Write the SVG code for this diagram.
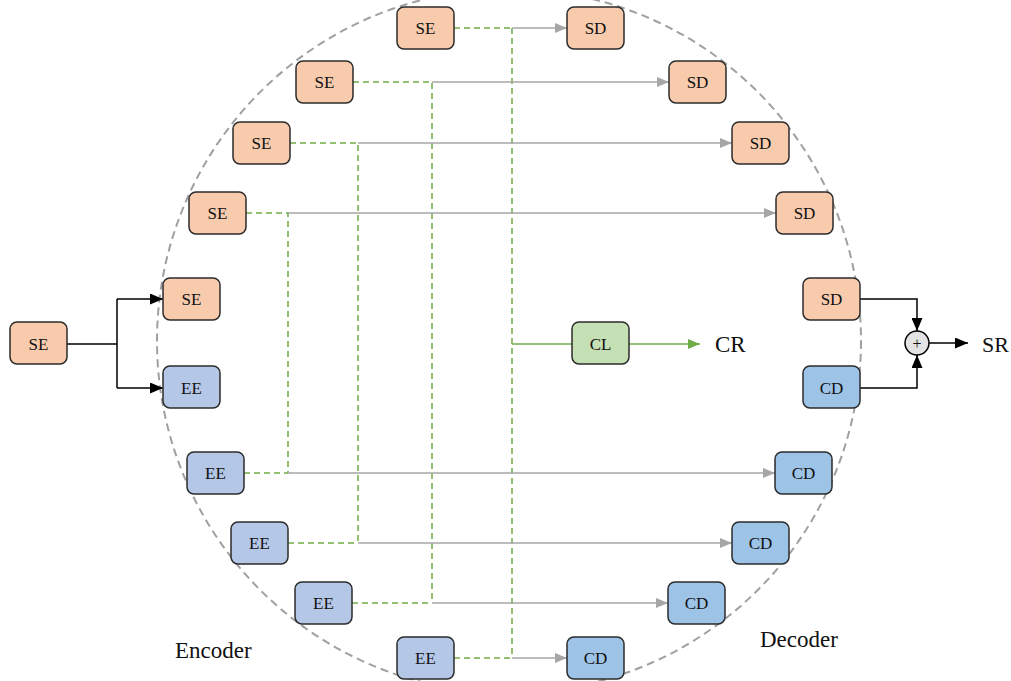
<svg xmlns="http://www.w3.org/2000/svg" width="1011" height="681" viewBox="0 0 1011 681">
<style>
.n rect{stroke:#2b2b2b;stroke-width:1.5}
.se{fill:#f8cbad}.ee{fill:#b4c7e7}.cd{fill:#9dc3e6}.cl{fill:#c5e0b4}
text{font-family:"Liberation Serif","Times New Roman",serif;fill:#111}
.n text{font-size:17px;text-anchor:middle;dominant-baseline:central}
.g{stroke:#a6a6a6;stroke-width:1.5;fill:none}
.gd{stroke:#70ad47;stroke-width:1.5;fill:none;stroke-dasharray:6 4}
.gs{stroke:#70ad47;stroke-width:1.5;fill:none}
.k{stroke:#000;stroke-width:1.5;fill:none}
.lbl{font-size:23px}
</style>
<defs>
<marker id="ag" markerWidth="12" markerHeight="10" refX="12" refY="5" orient="auto" markerUnits="userSpaceOnUse"><path d="M0,0 L12,5 L0,10 Z" fill="#a6a6a6"/></marker>
<marker id="agr" markerWidth="12" markerHeight="10" refX="12" refY="5" orient="auto" markerUnits="userSpaceOnUse"><path d="M0,0 L12,5 L0,10 Z" fill="#70ad47"/></marker>
<marker id="ak" markerWidth="13" markerHeight="11" refX="13" refY="5.5" orient="auto" markerUnits="userSpaceOnUse"><path d="M0,0 L13,5.5 L0,11 Z" fill="#000"/></marker>
</defs>
<rect width="1011" height="681" fill="#fff"/>
<circle cx="509" cy="341" r="352" fill="none" stroke="#a0a0a0" stroke-width="2" stroke-dasharray="8 5"/>
<g id="connectors">
<path class="gd" d="M454,28 H512 M512,28 V658"/>
<path class="g" d="M512,28 H567" marker-end="url(#ag)"/>
<path class="gd" d="M353,82 H432 V603"/>
<path class="g" d="M432,82 H669" marker-end="url(#ag)"/>
<path class="gd" d="M290,143 H358 V543"/>
<path class="g" d="M358,143 H732" marker-end="url(#ag)"/>
<path class="gd" d="M246,213 H288 V473"/>
<path class="g" d="M288,213 H776" marker-end="url(#ag)"/>
<path class="gd" d="M244,473 H288"/>
<path class="g" d="M288,473 H775" marker-end="url(#ag)"/>
<path class="gd" d="M288,543 H358"/>
<path class="g" d="M358,543 H732" marker-end="url(#ag)"/>
<path class="gd" d="M352,603 H432"/>
<path class="g" d="M432,603 H668" marker-end="url(#ag)"/>
<path class="gd" d="M454,658 H512"/>
<path class="g" d="M512,658 H567" marker-end="url(#ag)"/>
<path class="gs" d="M512,344 H572"/>
<path class="gs" d="M629,344 H700" marker-end="url(#agr)"/>
<path class="k" d="M67,344 H117 M117,299 V388"/>
<path class="k" d="M117,299 H163" marker-end="url(#ak)"/>
<path class="k" d="M117,388 H163" marker-end="url(#ak)"/>
<path class="k" d="M860,299 H917 V331" marker-end="url(#ak)"/>
<path class="k" d="M860,388 H917 V355" marker-end="url(#ak)"/>
<path class="k" d="M929,343 H968" marker-end="url(#ak)"/>
</g>
<g id="sum"><circle cx="917" cy="343" r="12" fill="#e3e3e3" stroke="#000" stroke-width="1.5"/><text x="917" y="343" font-size="16" text-anchor="middle" dominant-baseline="central">+</text></g>
<g id="se1" class="n"><rect class="se" x="397" y="7" width="57" height="42" rx="7"/><text x="425.5" y="28">SE</text></g>
<g id="se2" class="n"><rect class="se" x="296" y="61" width="57" height="42" rx="7"/><text x="324.5" y="82">SE</text></g>
<g id="se3" class="n"><rect class="se" x="233" y="122" width="57" height="42" rx="7"/><text x="261.5" y="143">SE</text></g>
<g id="se4" class="n"><rect class="se" x="189" y="192" width="57" height="42" rx="7"/><text x="217.5" y="213">SE</text></g>
<g id="se5" class="n"><rect class="se" x="163" y="278" width="57" height="42" rx="7"/><text x="191.5" y="299">SE</text></g>
<g id="se0" class="n"><rect class="se" x="10" y="322" width="57" height="42" rx="7"/><text x="38.5" y="344">SE</text></g>
<g id="ee1" class="n"><rect class="ee" x="163" y="366" width="57" height="42" rx="7"/><text x="191.5" y="388">EE</text></g>
<g id="ee2" class="n"><rect class="ee" x="187" y="452" width="57" height="42" rx="7"/><text x="215.5" y="473">EE</text></g>
<g id="ee3" class="n"><rect class="ee" x="231" y="522" width="57" height="42" rx="7"/><text x="259.5" y="543">EE</text></g>
<g id="ee4" class="n"><rect class="ee" x="295" y="582" width="57" height="42" rx="7"/><text x="323.5" y="603">EE</text></g>
<g id="ee5" class="n"><rect class="ee" x="397" y="637" width="57" height="42" rx="7"/><text x="425.5" y="658">EE</text></g>
<g id="sd1" class="n"><rect class="se" x="567" y="7" width="57" height="42" rx="7"/><text x="595.5" y="28">SD</text></g>
<g id="sd2" class="n"><rect class="se" x="669" y="61" width="57" height="42" rx="7"/><text x="697.5" y="82">SD</text></g>
<g id="sd3" class="n"><rect class="se" x="732" y="122" width="57" height="42" rx="7"/><text x="760.5" y="143">SD</text></g>
<g id="sd4" class="n"><rect class="se" x="776" y="192" width="57" height="42" rx="7"/><text x="804.5" y="213">SD</text></g>
<g id="sd5" class="n"><rect class="se" x="803" y="278" width="57" height="42" rx="7"/><text x="831.5" y="299">SD</text></g>
<g id="cd0" class="n"><rect class="cd" x="803" y="366" width="57" height="42" rx="7"/><text x="831.5" y="388">CD</text></g>
<g id="cd1" class="n"><rect class="cd" x="775" y="452" width="57" height="42" rx="7"/><text x="803.5" y="473">CD</text></g>
<g id="cd2" class="n"><rect class="cd" x="732" y="522" width="57" height="42" rx="7"/><text x="760.5" y="543">CD</text></g>
<g id="cd3" class="n"><rect class="cd" x="668" y="582" width="57" height="42" rx="7"/><text x="696.5" y="603">CD</text></g>
<g id="cd4" class="n"><rect class="cd" x="567" y="637" width="57" height="42" rx="7"/><text x="595.5" y="658">CD</text></g>
<g id="cl" class="n"><rect class="cl" x="572" y="322" width="57" height="42" rx="7"/><text x="600.5" y="344">CL</text></g>
<text class="lbl" x="715" y="352">CR</text>
<text x="982" y="352" font-size="22">SR</text>
<text class="lbl" x="175" y="658">Encoder</text>
<text class="lbl" x="760" y="647">Decoder</text>
</svg>
